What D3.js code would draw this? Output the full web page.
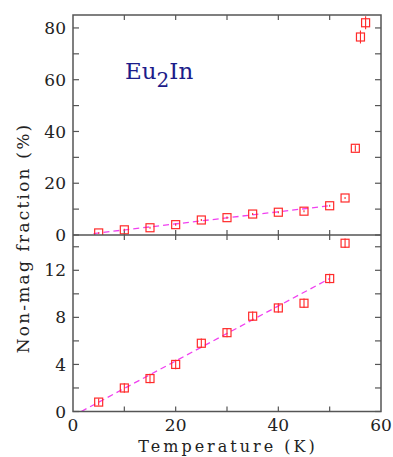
<!DOCTYPE html>
<html>
<head>
<meta charset="utf-8">
<script src="https://cdn.jsdelivr.net/npm/d3@7"></script>
<style>
  body { margin: 0; background: #fff; }
  svg { display: block; }
</style>
</head>
<body>
<div id="chart"></div>
<script>
// data
var temps   = [5, 10, 15, 20, 25, 30, 35, 40, 45, 50, 53, 55, 56, 57];
var fracs   = [0.8, 2.0, 2.8, 4.0, 5.8, 6.7, 8.1, 8.8, 9.2, 11.3, 14.3, 33.5, 76.5, 82.0];
var errs    = [0.3, 0.4, 0.4, 0.4, 0.4, 0.4, 0.4, 0.4, 0.4, 0.4, 0.4, 1.2, 2.5, 2.5];
var fitT    = [1.6, 50];
var fitY    = [0, 11.3];
var xTicks  = [0, 20, 40, 60];
var topTicks = [0, 20, 40, 60, 80];
var botTicks = [0, 4, 8, 12];

var W = 393, H = 457;
var left = 73, right = 381;
var topY0 = 15, midY = 235, botY = 411.5;

var svg = d3.select("#chart").append("svg")
  .attr("width", W).attr("height", H);

var x = d3.scaleLinear().domain([0, 60]).range([left, right]);
var yTop = d3.scaleLinear().domain([0, 85]).range([midY, topY0]);
var yBot = d3.scaleLinear().domain([0, 15]).range([botY, midY]);

var frameColor = "#555";
var serif = "'DejaVu Serif', serif";

svg.append("defs").append("clipPath").attr("id", "clipTop")
  .append("rect").attr("x", left).attr("y", topY0).attr("width", right - left).attr("height", midY - topY0);
svg.select("defs").append("clipPath").attr("id", "clipBot")
  .append("rect").attr("x", left).attr("y", midY).attr("width", right - left).attr("height", botY - midY);

function panel(y, major, minorStep, clipId, fitStart) {
  var g = svg.append("g");
  var yMin = y.domain()[0], yMax = y.domain()[1];
  var minor = d3.range(yMin, yMax + 0.001, minorStep);
  var tl = 6;

  // y ticks both sides, inward
  g.selectAll(".yl").data(minor).enter().append("line")
    .attr("x1", left).attr("x2", left + tl)
    .attr("y1", function (d) { return y(d); }).attr("y2", function (d) { return y(d); })
    .attr("stroke", frameColor).attr("stroke-width", 1.2);
  g.selectAll(".yr").data(minor).enter().append("line")
    .attr("x1", right).attr("x2", right - tl)
    .attr("y1", function (d) { return y(d); }).attr("y2", function (d) { return y(d); })
    .attr("stroke", frameColor).attr("stroke-width", 1.2);

  // x ticks top and bottom, inward
  var xt = d3.range(10, 60, 10);
  var r = y.range();
  g.selectAll(".xb").data(xt).enter().append("line")
    .attr("x1", function (d) { return x(d); }).attr("x2", function (d) { return x(d); })
    .attr("y1", r[0]).attr("y2", r[0] - 5)
    .attr("stroke", frameColor).attr("stroke-width", 1.2);
  g.selectAll(".xt").data(xt).enter().append("line")
    .attr("x1", function (d) { return x(d); }).attr("x2", function (d) { return x(d); })
    .attr("y1", r[1]).attr("y2", r[1] + 5)
    .attr("stroke", frameColor).attr("stroke-width", 1.2);

  g.selectAll(".ylab").data(major).enter().append("text")
    .attr("x", left - 7).attr("y", function (d) { return y(d); })
    .attr("dy", "0.36em").attr("text-anchor", "end")
    .attr("font-family", serif).attr("font-size", 17).attr("fill", "#222")
    .text(function (d) { return d; });

  var pg = g.append("g").attr("clip-path", "url(#" + clipId + ")");

  // linear fit
  var line = d3.line().x(function (d) { return x(d[0]); }).y(function (d) { return y(d[1]); });
  var slope = (fitY[1] - fitY[0]) / (fitT[1] - fitT[0]);
  var t0 = Math.max(fitT[0], fitStart);
  pg.append("path")
    .datum([[t0, fitY[0] + slope * (t0 - fitT[0])], [fitT[1], fitY[1]]])
    .attr("d", line)
    .attr("fill", "none").attr("stroke", "#f040f0").attr("stroke-width", 1.3)
    .attr("stroke-dasharray", "6,4");

  var pts = temps.map(function (t, i) { return { t: t, f: fracs[i], e: errs[i] }; })
    .filter(function (d) { return d.f <= yMax + 0.5; });
  var s = 8;
  pg.selectAll(".err").data(pts).enter().append("line")
    .attr("x1", function (d) { return x(d.t); }).attr("x2", function (d) { return x(d.t); })
    .attr("y1", function (d) { return y(d.f - d.e); }).attr("y2", function (d) { return y(d.f + d.e); })
    .attr("stroke", "#ff2a2a").attr("stroke-width", 1.1);
  pg.selectAll(".pt").data(pts).enter().append("rect")
    .attr("x", function (d) { return x(d.t) - s / 2; })
    .attr("y", function (d) { return y(d.f) - s / 2; })
    .attr("width", s).attr("height", s)
    .attr("fill", "none").attr("stroke", "#ff2a2a").attr("stroke-width", 1.2);
}

panel(yTop, topTicks, 10, "clipTop", 4);
panel(yBot, botTicks, 2, "clipBot", 0);

// frame
svg.append("rect").attr("x", left).attr("y", topY0)
  .attr("width", right - left).attr("height", botY - topY0)
  .attr("fill", "none").attr("stroke", frameColor).attr("stroke-width", 1.5);
svg.append("line").attr("x1", left).attr("x2", right).attr("y1", midY).attr("y2", midY)
  .attr("stroke", frameColor).attr("stroke-width", 1.5);

// x tick labels
svg.selectAll(".xlab").data(xTicks).enter().append("text")
  .attr("x", function (d) { return x(d); }).attr("y", botY + 19)
  .attr("text-anchor", "middle")
  .attr("font-family", serif).attr("font-size", 17).attr("fill", "#222")
  .text(function (d) { return d; });

svg.append("text")
  .attr("x", 228).attr("y", 452)
  .attr("text-anchor", "middle")
  .attr("font-family", serif).attr("font-size", 16).attr("letter-spacing", 3)
  .attr("fill", "#222")
  .text("Temperature (K)");

svg.append("text")
  .attr("transform", "translate(29," + 238 + ") rotate(-90)")
  .attr("text-anchor", "middle")
  .attr("font-family", serif).attr("font-size", 17).attr("letter-spacing", 2.2)
  .attr("fill", "#222")
  .text("Non-mag fraction (%)");

var lab = svg.append("text").attr("x", 125).attr("y", 79)
  .attr("font-family", serif).attr("font-size", 23).attr("fill", "#1c1c8a");
lab.append("tspan").text("Eu");
lab.append("tspan").attr("dy", 8).attr("font-size", 20).text("2");
lab.append("tspan").attr("dy", -8).text("In");
</script>
</body>
</html>
